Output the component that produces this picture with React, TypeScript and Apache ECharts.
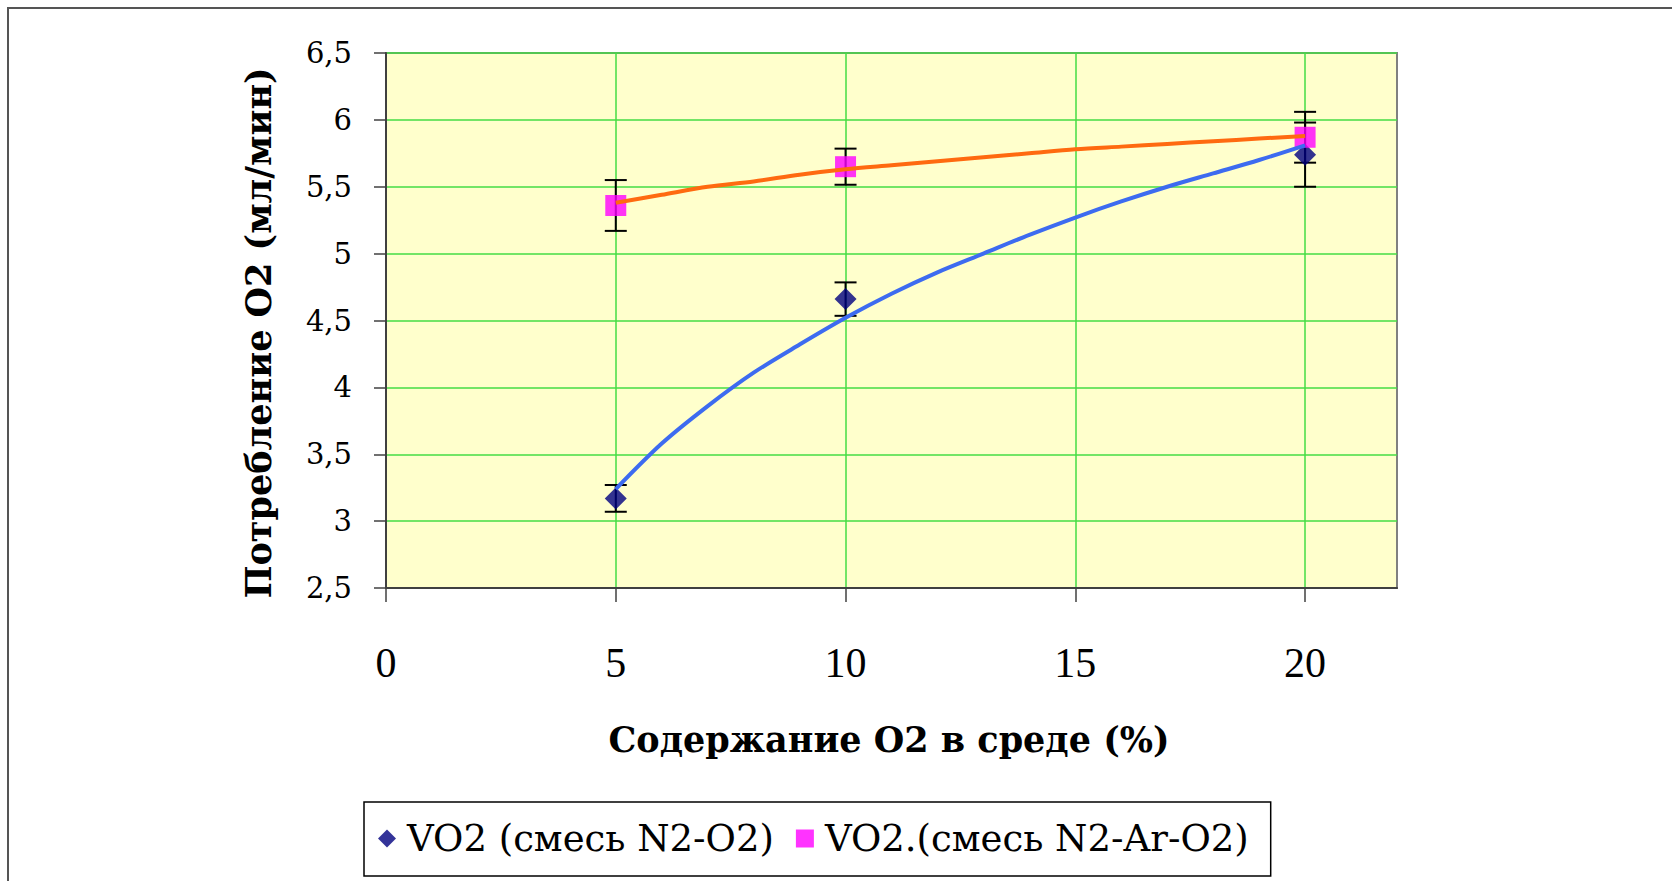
import React, { useEffect, useRef } from "react";
import * as echarts from "echarts";

// Measured points
const xPoints = [5, 10, 20];
const vo2N2: number[] = [3.17, 4.66, 5.74];
const vo2N2Err: number[] = [0.1, 0.125, 0.24];
const vo2Ar: number[] = [5.36, 5.65, 5.87];
const vo2ArErr: number[] = [0.19, 0.135, 0.19];

// Trendlines
const trendX = [5, 6, 7, 8, 9, 10, 11, 12, 13, 14, 15, 16, 17, 18, 19, 20];
const trendN2 = [3.24, 3.58, 3.86, 4.11, 4.32, 4.52, 4.7, 4.86, 5.0, 5.14, 5.27, 5.39, 5.5, 5.6, 5.7, 5.81];
const trendAr = [5.38, 5.44, 5.5, 5.54, 5.59, 5.63, 5.66, 5.69, 5.72, 5.75, 5.78, 5.8, 5.82, 5.84, 5.86, 5.88];

const xTicks = [0, 5, 10, 15, 20];

const nameN2 = "VO2 (смесь N2-O2)";
const nameAr = "VO2.(смесь N2-Ar-O2)";
const yTitle = "Потребление О2 (мл/мин)";
const xTitle = "Содержание О2 в среде (%)";

const FONT = "'Liberation Serif', 'Times New Roman', serif";
const WIDE = "'DejaVu Serif', 'Liberation Serif', serif";

export default function App() {
  const ref = useRef<HTMLDivElement>(null);
  useEffect(() => {
    if (!ref.current) return;
    const chart = echarts.init(ref.current, undefined, { renderer: "svg" });

    const errData = (ys: number[], es: number[]) =>
      xPoints.map((x, i) => [x, ys[i] - es[i], ys[i] + es[i]]);

    const errRender = (params: any, api: any) => {
      const x = api.value(0);
      const lo = api.coord([x, api.value(1)]);
      const hi = api.coord([x, api.value(2)]);
      const hw = 11;
      const style = { stroke: "#000", lineWidth: 2 };
      return {
        type: "group",
        children: [
          { type: "line", shape: { x1: lo[0], y1: lo[1], x2: hi[0], y2: hi[1] }, style },
          { type: "line", shape: { x1: lo[0] - hw, y1: lo[1], x2: lo[0] + hw, y2: lo[1] }, style },
          { type: "line", shape: { x1: hi[0] - hw, y1: hi[1], x2: hi[0] + hw, y2: hi[1] }, style },
        ],
      };
    };

    chart.setOption({
      animation: false,
      backgroundColor: "#ffffff",
      graphic: [
        {
          type: "rect",
          shape: { x: 8, y: 8, width: 1700, height: 900 },
          style: { fill: "none", stroke: "#555555", lineWidth: 2 },
          z: -10,
          silent: true,
        },
        {
          type: "text",
          x: 258,
          y: 333,
          rotation: Math.PI / 2,
          style: {
            text: yTitle,
            font: `bold 35px ${WIDE}`,
            fill: "#000",
            align: "center",
            verticalAlign: "middle",
          },
        },
        {
          type: "text",
          x: 889,
          y: 739,
          style: {
            text: xTitle,
            font: `bold 35px ${WIDE}`,
            fill: "#000",
            align: "center",
            verticalAlign: "middle",
          },
        },
      ],
      grid: {
        left: 386,
        top: 53,
        right: 275,
        bottom: 293,
        show: true,
        backgroundColor: "#FFFFCC",
        borderColor: "#808080",
        borderWidth: 2,
      },
      legend: {
        data: [nameN2, nameAr],
        left: 364,
        top: 802,
        orient: "horizontal",
        padding: [18, 22, 19, 14],
        itemGap: 22,
        itemWidth: 18,
        itemHeight: 18,
        borderColor: "#000",
        borderWidth: 1.5,
        textStyle: { fontFamily: WIDE, fontSize: 37, color: "#000", padding: [0, 0, 0, 6] },
      },
      xAxis: {
        type: "value",
        min: 0,
        max: 22,
        interval: 5,
        axisLine: { show: true, lineStyle: { color: "#404040", width: 2 } },
        axisTick: {
          show: true,
          inside: false,
          length: 14,
          customValues: xTicks,
          lineStyle: { color: "#404040", width: 1.5 },
        },
        axisLabel: {
          customValues: xTicks,
          margin: 54,
          fontFamily: FONT,
          fontSize: 42,
          color: "#000",
        },
        splitLine: { show: true, lineStyle: { color: "#44DD44", width: 1.5 } },
      },
      yAxis: {
        type: "value",
        min: 2.5,
        max: 6.5,
        interval: 0.5,
        axisLine: { show: true, lineStyle: { color: "#404040", width: 2 } },
        axisTick: { show: true, inside: false, length: 12, lineStyle: { color: "#404040", width: 1.5 } },
        axisLabel: {
          margin: 34,
          fontFamily: WIDE,
          fontSize: 29,
          color: "#000",
          formatter: (v: number) => String(v).replace(".", ","),
        },
        splitLine: { show: true, lineStyle: { color: "#44DD44", width: 1.5 } },
      },
      series: [
        {
          name: "errN2",
          type: "custom",
          renderItem: errRender,
          data: errData(vo2N2, vo2N2Err),
          z: 2,
          silent: true,
        },
        {
          name: "errAr",
          type: "custom",
          renderItem: errRender,
          data: errData(vo2Ar, vo2ArErr),
          z: 2,
          silent: true,
        },
        {
          name: nameN2,
          type: "scatter",
          symbol: "diamond",
          symbolSize: 22,
          itemStyle: { color: "#000080" },
          data: xPoints.map((x, i) => [x, vo2N2[i]]),
          z: 3,
        },
        {
          name: nameAr,
          type: "scatter",
          symbol: "rect",
          symbolSize: 21,
          itemStyle: { color: "#FF00FF" },
          data: xPoints.map((x, i) => [x, vo2Ar[i]]),
          z: 3,
        },
        {
          name: "trendN2",
          type: "line",
          showSymbol: false,
          smooth: 0.3,
          lineStyle: { color: "#3D6BF0", width: 4 },
          data: trendX.map((x, i) => [x, trendN2[i]]),
          z: 4,
        },
        {
          name: "trendAr",
          type: "line",
          showSymbol: false,
          smooth: 0.3,
          lineStyle: { color: "#FF6A10", width: 4 },
          data: trendX.map((x, i) => [x, trendAr[i]]),
          z: 4,
        },
      ],
    });
    return () => chart.dispose();
  }, []);
  return (
    <div
      ref={ref}
      style={{ position: "absolute", left: 0, top: 0, width: 1672, height: 881 }}
    />
  );
}
